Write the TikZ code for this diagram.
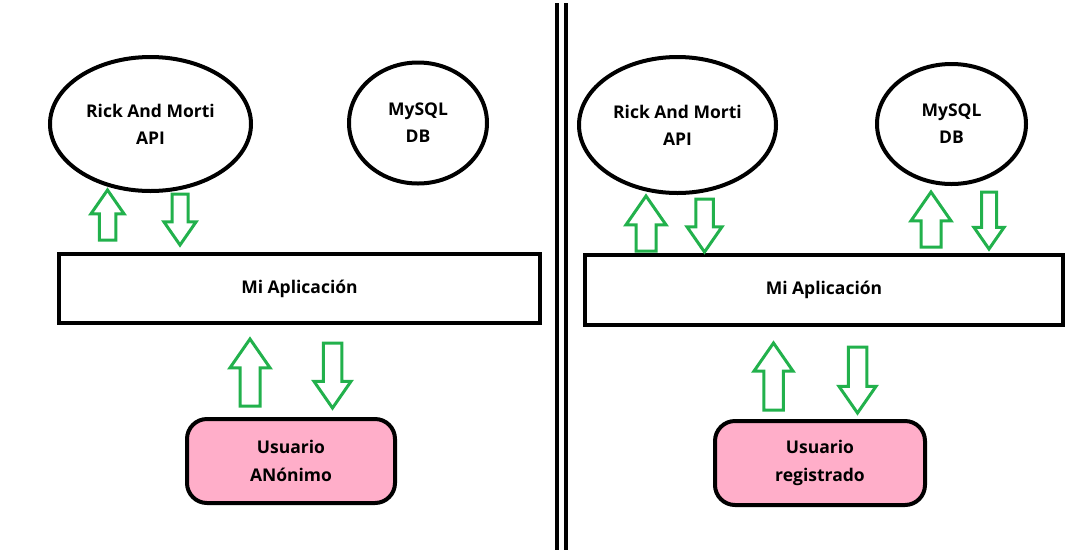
\documentclass[tikz,border=0pt]{standalone}
\usepackage{fontspec}
\setmainfont{Open Sans}
\usetikzlibrary{shapes.geometric}

\definecolor{paintgreen}{HTML}{22B14C}
\definecolor{paintpink}{HTML}{FFAEC9}

% block arrow: x, tail y, tip y, head width
\newcommand{\flecha}[4]{%
  \pgfmathsetmacro{\hw}{#4/2}%
  \pgfmathsetmacro{\sw}{#4/4}%
  \pgfmathsetmacro{\hb}{#3+0.72*#4*sign(#2-#3)}%
  \draw [bloque] (#1-\sw,#2) -- (#1-\sw,\hb) -- (#1-\hw,\hb) -- (#1,#3) -- (#1+\hw,\hb) -- (#1+\sw,\hb) -- (#1+\sw,#2) -- cycle;}

\begin{document}
\begin{tikzpicture}[x=1pt,y=-1pt]

\tikzstyle{servicio} = [ellipse, draw=black, line width=4pt, align=center, inner sep=0pt, font=\fontsize{17.5}{27}\selectfont\bfseries]
\tikzstyle{aplicacion} = [rectangle, draw=black, line width=4pt, inner sep=0pt, font=\fontsize{17.5}{27}\selectfont\bfseries]
\tikzstyle{usuario} = [rectangle, rounded corners=20pt, draw=black, fill=paintpink, line width=4pt, align=center, inner sep=0pt, font=\fontsize{17.5}{28}\selectfont\bfseries]
\tikzstyle{bloque} = [draw=paintgreen, line width=3pt]
\tikzstyle{separador} = [line width=4pt]

\useasboundingbox (0,0) rectangle (1082,550);

% left side
\node (apiL) [servicio, minimum width=201pt, minimum height=134pt] at (150.5,124) {Rick And Morti\\API};
\node (dbL) [servicio, minimum width=138pt, minimum height=121pt] at (418,123) {MySQL\\DB};
\node (appL) [aplicacion, minimum width=481pt, minimum height=69pt] at (299.5,288.5) {Mi Aplicación};
\node (userL) [usuario, minimum width=208pt, minimum height=84pt] at (291,461) {Usuario\\ANónimo};

\flecha{107.5}{240}{190}{33}
\flecha{180}{194}{245}{32}
\flecha{250}{406}{339}{40}
\flecha{332.5}{343}{408}{37}

% divider
\draw [separador] (557,3) -- (557,550);
\draw [separador] (566,3) -- (566,550);

% right side
\node (apiR) [servicio, minimum width=197pt, minimum height=136pt] at (677.5,125) {Rick And Morti\\API};
\node (dbR) [servicio, minimum width=149pt, minimum height=120pt] at (951.5,124) {MySQL\\DB};
\node (appR) [aplicacion, minimum width=478pt, minimum height=70pt] at (824,290) {Mi Aplicación};
\node (userR) [usuario, minimum width=210pt, minimum height=84pt] at (820,463) {Usuario\\registrado};

\flecha{646}{251}{196}{40}
\flecha{704.5}{199}{252}{35}
\flecha{931}{247}{192}{40}
\flecha{989}{192}{249}{30}
\flecha{773.5}{410}{343}{39}
\flecha{857.5}{347}{413}{37}

\end{tikzpicture}
\end{document}
